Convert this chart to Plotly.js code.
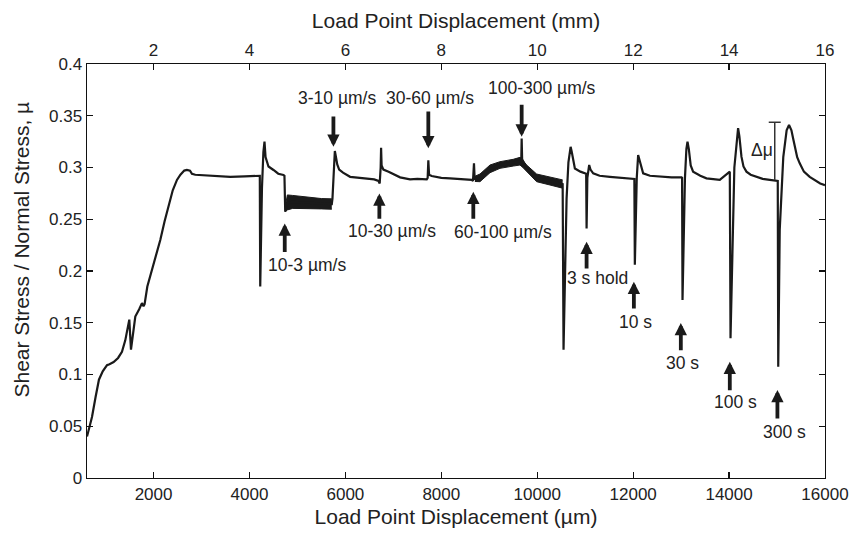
<!DOCTYPE html>
<html>
<head>
<meta charset="utf-8">
<script src="https://cdn.plot.ly/plotly-3.0.1.min.js"></script>
<style>
  html, body { margin: 0; padding: 0; background: #fff; }
  #chart { width: 851px; height: 536px; }
</style>
</head>
<body>
<div id="chart"></div>
<script>
// Friction trace: load point displacement (µm) and shear/normal stress ratio
const displacement = [
  612, 716, 790, 861, 940, 1029, 1080, 1167, 1260, 1341, 1410, 1494, 1529, 1570, 1619,
  1700, 1758, 1790, 1813, 1870, 1931, 2040, 2140, 2230, 2313, 2400, 2488, 2560, 2640,
  2696, 2760, 2800, 2869, 3042, 3300, 3600, 3900, 4190, 4215, 4224, 4260, 4290, 4313,
  4335, 4370, 4396, 4500, 4600, 4708, 4729, 4745, 4790, 4900, 5100, 5300, 5500, 5716,
  5730, 5760, 5780, 5800, 5830, 5870, 5950, 6098, 6375, 6600, 6690, 6715, 6735, 6744,
  6755, 6792, 6900, 7000, 7140, 7348, 7500, 7696, 7715, 7729, 7745, 7800, 8000, 8181,
  8400, 8633, 8660, 8681, 8695, 8806, 9015, 9223, 9500, 9640, 9668, 9675, 9685, 9779,
  9987, 10265, 10530, 10548, 10612, 10650, 10696, 10720, 10760, 10785, 10900, 10994,
  11020, 11029, 11045, 11083, 11110, 11167, 11300, 11515, 11800, 12000, 12025, 12035,
  12075, 12104, 12140, 12208, 12350, 12556, 12800, 13008, 13020, 13029, 13080, 13110,
  13133, 13160, 13200, 13250, 13400, 13529, 13700, 13806, 14015, 14030, 14110, 14160,
  14188, 14215, 14258, 14300, 14362, 14450, 14571, 14700, 14848, 15000, 15015, 15025,
  15056, 15130, 15200, 15250, 15300, 15340, 15369, 15420, 15473, 15560, 15681, 15800,
  15900, 16000
];
const friction = [
  0.040, 0.059, 0.078, 0.095, 0.103, 0.109, 0.110, 0.112, 0.116, 0.122, 0.133, 0.153, 0.124, 0.140, 0.156,
  0.163, 0.169, 0.166, 0.168, 0.185, 0.195, 0.212, 0.230, 0.248, 0.262, 0.278, 0.288, 0.293, 0.297,
  0.2976, 0.297, 0.294, 0.293, 0.2925, 0.292, 0.291, 0.2915, 0.292, 0.292, 0.185, 0.280, 0.315, 0.325,
  0.310, 0.303, 0.301, 0.2976, 0.294, 0.2928, 0.292, 0.2573, 0.266, 0.2668, 0.2663, 0.2655, 0.265, 0.2647,
  0.270, 0.305, 0.316, 0.311, 0.303, 0.298, 0.295, 0.291, 0.2895, 0.2885, 0.287, 0.2845, 0.300, 0.319,
  0.302, 0.298, 0.296, 0.294, 0.2905, 0.2885, 0.289, 0.2886, 0.290, 0.307, 0.293, 0.2918, 0.290, 0.2895,
  0.289, 0.288, 0.287, 0.304, 0.289, 0.290, 0.2987, 0.3024, 0.3047, 0.306, 0.310, 0.328, 0.308, 0.299,
  0.290, 0.2868, 0.284, 0.124, 0.270, 0.305, 0.320, 0.315, 0.302, 0.299, 0.296, 0.2944,
  0.294, 0.241, 0.290, 0.3024, 0.298, 0.2944, 0.292, 0.291, 0.290, 0.2895, 0.289, 0.206,
  0.290, 0.312, 0.305, 0.2944, 0.292, 0.291, 0.2905, 0.2905, 0.290, 0.172, 0.290, 0.318,
  0.325, 0.318, 0.302, 0.296, 0.292, 0.2895, 0.289, 0.288, 0.296, 0.135, 0.300, 0.330,
  0.338, 0.330, 0.3105, 0.301, 0.296, 0.293, 0.291, 0.289, 0.288, 0.2875, 0.287, 0.1076,
  0.240, 0.310, 0.336, 0.341, 0.336, 0.327, 0.320, 0.310, 0.304, 0.296, 0.291, 0.287,
  0.2845, 0.283
];

// Noise envelope during the 10-3 µm/s velocity step
const slowBandX = [4745, 4790, 4900, 5100, 5300, 5500, 5716];
const slowBandHi = [0.262, 0.2735, 0.273, 0.272, 0.271, 0.270, 0.2697];
const slowBandLo = [0.2575, 0.259, 0.2605, 0.2605, 0.260, 0.260, 0.2597];

// Noise envelope through the 60-100 and 100-300 µm/s steps
const fastBandX = [8700, 8806, 9015, 9223, 9500, 9640, 9700, 9779, 9987, 10265, 10530];
const fastBandHi = [0.2915, 0.2937, 0.3024, 0.3056, 0.3079, 0.3098, 0.307, 0.3024, 0.2937, 0.2905, 0.288];
const fastBandLo = [0.2865, 0.2863, 0.295, 0.2992, 0.3014, 0.3024, 0.300, 0.296, 0.2863, 0.2831, 0.280];

// Events marked with arrows: where they happen and what they are
const eventLabels = ['10-3 µm/s', '3-10 µm/s', '10-30 µm/s', '30-60 µm/s', '60-100 µm/s', '100-300 µm/s',
                     '3 s hold', '10 s', '30 s', '100 s', '300 s'];
const eventX = [4735, 5750, 6708, 7729, 8667, 9675, 11029, 12015, 12994, 14015, 15008];

// Δμ marker (peak friction after the 300 s hold)
const deltaMuX = 14952;
const deltaMuRange = [0.288, 0.3437];

const ink = '#1a1a1a';
const fontFamily = 'Liberation Sans, Arial, Helvetica, sans-serif';
const textFont = { family: fontFamily, size: 17.5, color: '#222' };
const titleFont = { family: fontFamily, size: 21, color: '#222' };

// arrow tip / tail heights and label placement for each event
const arrowTip = [0.246, 0.320, 0.275, 0.3185, 0.2766, 0.3298, 0.2283, 0.1897, 0.1498, 0.1124, 0.085];
const arrowTail = [0.217, 0.3507, 0.249, 0.3556, 0.249, 0.362, 0.201, 0.1623, 0.122, 0.0834, 0.056];
const labelPos = [
  [5196, 0.2058], [5827, 0.3669], [6973, 0.2386], [7765, 0.3669], [9285, 0.2377], [10092, 0.3765],
  [11254, 0.193], [12056, 0.151], [13035, 0.1108], [14129, 0.0737], [15154, 0.0447]
];

const traces = [
  {
    x: slowBandX, y: slowBandLo, mode: 'lines', line: { color: ink, width: 1 },
    hoverinfo: 'skip', showlegend: false
  },
  {
    x: slowBandX, y: slowBandHi, mode: 'lines', line: { color: ink, width: 1 },
    fill: 'tonexty', fillcolor: ink, hoverinfo: 'skip', showlegend: false
  },
  {
    x: fastBandX, y: fastBandLo, mode: 'lines', line: { color: ink, width: 1 },
    hoverinfo: 'skip', showlegend: false
  },
  {
    x: fastBandX, y: fastBandHi, mode: 'lines', line: { color: ink, width: 1 },
    fill: 'tonexty', fillcolor: ink, hoverinfo: 'skip', showlegend: false
  },
  {
    x: displacement, y: friction, mode: 'lines',
    line: { color: ink, width: 2.2 }, showlegend: false
  },
  {
    // same trace in millimetres, carries the top axis
    x: displacement.map(v => v / 1000), y: friction, xaxis: 'x2', mode: 'lines',
    line: { color: 'rgba(0,0,0,0)', width: 0 }, hoverinfo: 'skip', showlegend: false
  }
];

const annotations = [];
eventLabels.forEach((label, i) => {
  annotations.push({
    x: eventX[i], y: arrowTip[i], ax: eventX[i], ay: arrowTail[i],
    xref: 'x', yref: 'y', axref: 'x', ayref: 'y',
    text: '', showarrow: true, arrowhead: 2, arrowsize: 0.65, arrowwidth: 3.8,
    arrowcolor: ink, standoff: 0
  });
  annotations.push({
    x: labelPos[i][0], y: labelPos[i][1], xref: 'x', yref: 'y',
    text: label, showarrow: false, font: textFont,
    xanchor: 'center', yanchor: 'middle'
  });
});
annotations.push({
  x: 14692, y: 0.317, xref: 'x', yref: 'y', text: 'Δμ', showarrow: false,
  font: textFont, xanchor: 'center', yanchor: 'middle'
});

// y title is placed in pixels, converted to paper fractions of the plot area
const plotW = 851 - 87 - 26, plotH = 536 - 64 - 58;
annotations.push({
  x: (20.5 - 87) / plotW, y: (536 - 58 - 250) / plotH, xref: 'paper', yref: 'paper',
  text: 'Shear Stress / Normal Stress, µ',
  showarrow: false, textangle: -90, font: titleFont,
  xanchor: 'center', yanchor: 'middle'
});

const axisCommon = {
  showgrid: false, zeroline: false, showline: true, linecolor: '#111', linewidth: 1.4,
  ticks: 'inside', ticklen: 6, tickwidth: 1.2, tickcolor: '#111',
  exponentformat: 'none', separatethousands: false,
  tickfont: { family: fontFamily, size: 17, color: '#222' }
};

const layout = {
  width: 851, height: 536,
  margin: { l: 87, r: 26, t: 64, b: 58 },
  paper_bgcolor: '#fff', plot_bgcolor: '#fff',
  showlegend: false,
  xaxis: Object.assign({}, axisCommon, {
    range: [612, 16000], tick0: 0, dtick: 2000, mirror: true, tickformat: 'd',
    title: { text: 'Load Point Displacement (µm)', font: titleFont, standoff: 6 }
  }),
  xaxis2: Object.assign({}, axisCommon, {
    overlaying: 'x', side: 'top', anchor: 'y',
    range: [0.612, 16], tick0: 0, dtick: 2,
    title: { text: 'Load Point Displacement (mm)', font: titleFont, standoff: 6 }
  }),
  yaxis: Object.assign({}, axisCommon, {
    range: [0, 0.4], tick0: 0, dtick: 0.05, mirror: 'ticks'
  }),
  shapes: [
    { type: 'line', xref: 'x', yref: 'y', x0: deltaMuX, x1: deltaMuX, y0: deltaMuRange[0], y1: deltaMuRange[1],
      line: { color: '#333', width: 1.5 } },
    { type: 'line', xref: 'x', yref: 'y', x0: deltaMuX - 125, x1: deltaMuX + 125, y0: deltaMuRange[1], y1: deltaMuRange[1],
      line: { color: '#333', width: 1.5 } }
  ],
  annotations: annotations
};

Plotly.newPlot('chart', traces, layout, { staticPlot: true, displayModeBar: false });
</script>
</body>
</html>
